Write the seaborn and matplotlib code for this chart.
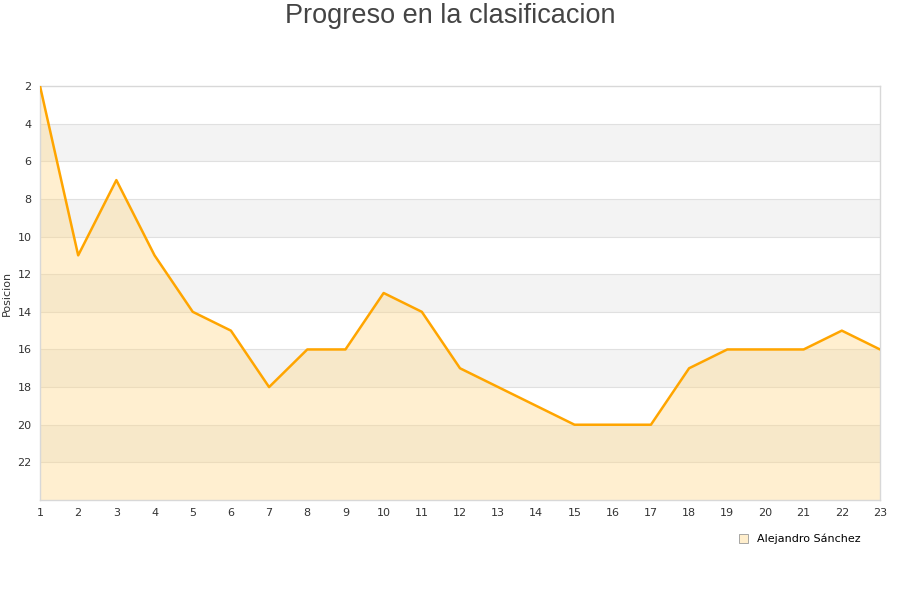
import matplotlib
matplotlib.use("Agg")
import matplotlib.pyplot as plt
import seaborn as sns
import pandas as pd

# datos
jornadas = list(range(1, 24))
posiciones = [2, 11, 7, 11, 14, 15, 18, 16, 16, 13, 14, 17, 18, 19, 20, 20, 20, 17, 16, 16, 16, 15, 16]
jugador = "Alejandro Sánchez"
y_ticks = [2, 4, 6, 8, 10, 12, 14, 16, 18, 20, 22]

df = pd.DataFrame({"jornada": jornadas, "posicion": posiciones})

sns.set_style("white")
plt.rcParams['font.family'] = ['DejaVu Sans']

fig = plt.figure(figsize=(9, 6), dpi=100)
ax = fig.add_axes([40 / 900, 100 / 600, 840 / 900, 414 / 600])

y_min, y_max = 2, 24

# bandas alternas
for i, y0 in enumerate(range(y_min, y_max, 2)):
    if i % 2 == 1:
        ax.axhspan(y0, y0 + 2, color='#f3f3f3', zorder=0, lw=0)
for y in y_ticks[1:]:
    ax.axhline(y, color='#e0e0e0', lw=0.8, zorder=1)

ax.fill_between(df['jornada'], df['posicion'], y_max, color='#ffd88a', alpha=0.4, lw=0, zorder=2)
sns.lineplot(data=df, x='jornada', y='posicion', color='#ffa500', lw=1.8, ax=ax, zorder=3)

ax.set_xlim(1, 23)
ax.set_ylim(y_max, y_min)
ax.set_xticks(jornadas)
ax.set_yticks(y_ticks)
ax.tick_params(axis='both', labelsize=8, colors='#333333', length=0, pad=6)
ax.set_xlabel('')
ax.set_ylabel('Posicion', fontsize=8, color='#333333', labelpad=4)

for s in ax.spines.values():
    s.set_color('#d8d8d8')
    s.set_linewidth(1)

fig.text(0.5, 1 - 16 / 600, 'Progreso en la clasificacion', ha='center', va='center', fontsize=19.5,
         color='#444444', family=['Liberation Sans'])

handle = plt.Rectangle((0, 0), 1, 1, facecolor='#ffeecc', edgecolor='#999999', lw=0.6)
fig.legend([handle], [jugador], loc='center', bbox_to_anchor=(800 / 900, 1 - 539 / 600),
           frameon=False, fontsize=8, handlelength=0.8, handleheight=0.8, handletextpad=0.8,
           labelcolor='black')

fig.savefig('out.png', dpi=100)
